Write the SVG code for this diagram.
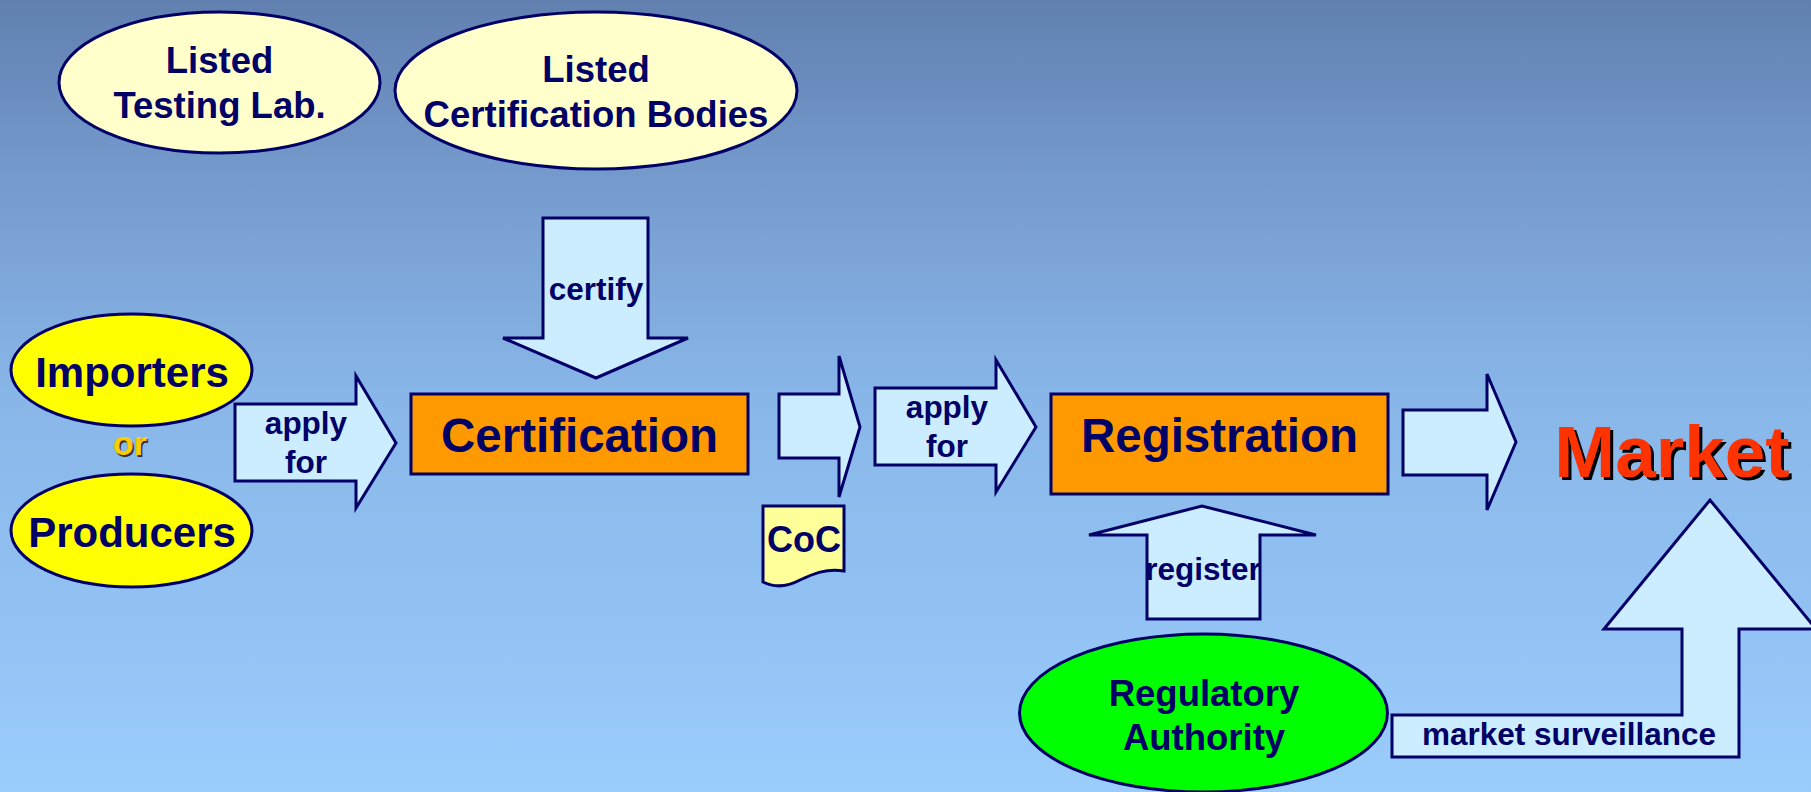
<svg xmlns="http://www.w3.org/2000/svg" width="1811" height="792" viewBox="0 0 1811 792">
<defs>
<linearGradient id="bg" x1="0" y1="0" x2="0" y2="1">
<stop offset="0" stop-color="#6180B0"/>
<stop offset="0.25" stop-color="#779DD0"/>
<stop offset="0.5" stop-color="#88B6E8"/>
<stop offset="1" stop-color="#9ACCFC"/>
</linearGradient>
</defs>
<style>
.t{font-family:"Liberation Sans",Arial,sans-serif;font-weight:bold;fill:#000066;text-anchor:middle}
.s{stroke:#000066;stroke-width:3;stroke-linejoin:miter}
.arr{fill:#CCECFF;stroke:#000066;stroke-width:3;stroke-linejoin:miter}
.lbl{font-size:31.5px}
.node{font-size:36.5px}
.big{font-size:42px}
.box{font-size:47.5px}
</style>
<rect x="0" y="0" width="1811" height="792" fill="url(#bg)"/>

<g id="connectors">
  <g id="arrow-apply1">
    <path class="arr" d="M235,404 H356 V376 L396,443 L356,508 V481 H235 Z"/>
    <text class="t lbl" x="306" y="434">apply</text>
    <text class="t lbl" x="306" y="473">for</text>
  </g>
  <g id="arrow-certify">
    <path class="arr" d="M543,218 H648 V338 H688 L596,378 L503,338 H543 Z"/>
    <text class="t lbl" x="596" y="300">certify</text>
  </g>
  <g id="arrow-coc">
    <path class="arr" d="M779,394 H839 V356 L860,427 L839,497 V458 H779 Z"/>
  </g>
  <g id="arrow-apply2">
    <path class="arr" d="M875,388 H996 V360 L1036,427 L996,492 V465 H875 Z"/>
    <text class="t lbl" x="947" y="418">apply</text>
    <text class="t lbl" x="947" y="457">for</text>
  </g>
  <g id="arrow-register">
    <path class="arr" d="M1147,619 V535 H1089 L1202,506 L1316,535 H1260 V619 Z"/>
    <text class="t lbl" x="1203" y="580">register</text>
  </g>
  <g id="arrow-market">
    <path class="arr" d="M1403,410 H1487 V374 L1516,442 L1487,510 V475 H1403 Z"/>
  </g>
  <g id="arrow-surveillance">
    <path class="arr" d="M1392,715 H1682 V629 H1604 L1710,500 L1816,629 H1739 V757 H1392 Z"/>
    <text class="t lbl" x="1569" y="745">market surveillance</text>
  </g>
</g>

<g id="node-testing-lab">
  <ellipse class="s" cx="219.5" cy="82.5" rx="160.5" ry="70.5" fill="#FFFFCC"/>
  <text class="t node" x="219.5" y="73">Listed</text>
  <text class="t node" x="219.5" y="118">Testing Lab.</text>
</g>
<g id="node-cert-bodies">
  <ellipse class="s" cx="596" cy="90.5" rx="201" ry="78.5" fill="#FFFFCC"/>
  <text class="t node" x="596" y="82">Listed</text>
  <text class="t node" x="596" y="127">Certification Bodies</text>
</g>
<g id="node-importers">
  <ellipse class="s" cx="131.5" cy="370" rx="120.5" ry="56" fill="#FFFF00"/>
  <text class="t big" x="132" y="387">Importers</text>
</g>
<g id="node-or">
  <text class="t" x="131.5" y="457" style="font-size:34px;fill:#333333">or</text>
  <text class="t" x="130" y="455" style="font-size:34px;fill:#FFCC00">or</text>
</g>
<g id="node-producers">
  <ellipse class="s" cx="131.5" cy="530.5" rx="120.5" ry="56.5" fill="#FFFF00"/>
  <text class="t big" x="132" y="547">Producers</text>
</g>
<g id="node-certification">
  <rect class="s" x="411" y="394" width="337" height="80" fill="#FF9900"/>
  <text class="t box" x="579.5" y="452">Certification</text>
</g>
<g id="node-coc">
  <path class="s" fill="#FFFF99" d="M763,506 H844 V571 C826,568 813,574 800,580 C787,587 775,588 763,582 Z"/>
  <text class="t" x="804" y="552" style="font-size:36px">CoC</text>
</g>
<g id="node-registration">
  <rect class="s" x="1051" y="394" width="337" height="100" fill="#FF9900"/>
  <text class="t box" x="1219.5" y="452">Registration</text>
</g>
<g id="node-regulatory">
  <ellipse class="s" cx="1203.5" cy="713" rx="184" ry="79" fill="#00FF00"/>
  <text class="t node" x="1204" y="706">Regulatory</text>
  <text class="t node" x="1204" y="750">Authority</text>
</g>
<g id="node-market">
  <text class="t" x="1675" y="480" style="font-size:73px;fill:#000000">Market</text>
  <text class="t" x="1672" y="477" style="font-size:73px;fill:#FF3300">Market</text>
</g>
</svg>
